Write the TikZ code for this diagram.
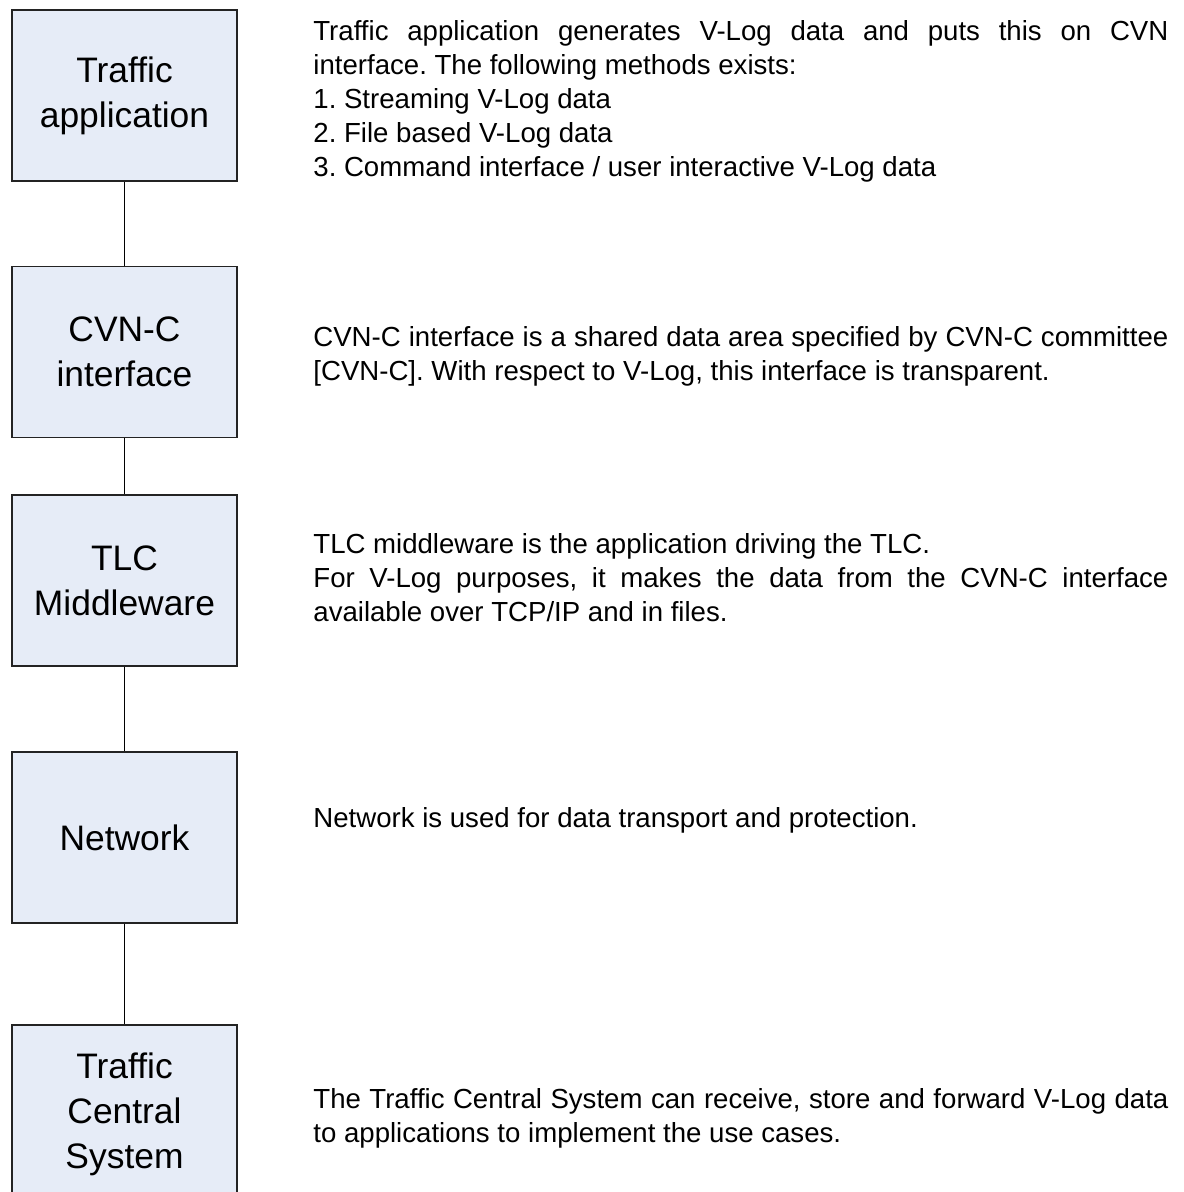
\documentclass[tikz,border=0pt]{standalone}
\usepackage{fontspec}
\setmainfont{Liberation Sans}
\definecolor{azulCamada}{RGB}{230,236,247}
\definecolor{bordaEscura}{RGB}{35,35,35}
\usetikzlibrary{positioning}
\newcommand{\fontenota}{\fontsize{13.8}{17}\selectfont\fontdimen4\font=0pt\relax}
\tikzset{
  camada/.style={rectangle, draw=bordaEscura, line width=0.7pt, fill=azulCamada,
                 minimum width=112.5pt, minimum height=85.5pt, inner sep=0pt,
                 align=center, font=\fontsize{17.7}{22.5}\selectfont},
  nota/.style={anchor=west, text width=427.5pt, align=justify, inner sep=0pt,
               font=\fontenota,
               execute at begin node={\frenchspacing\hyphenpenalty=10000\relax
                                      \exhyphenpenalty=10000\relax}},
  ligacao/.style={line width=0.7pt, black},
}

\begin{document}
\begin{tikzpicture}[x=0.5pt, y=-0.5pt]
  \useasboundingbox (0,0) rectangle (1183,1192);
  \clip (0,0) rectangle (1183,1192);
  % camadas
  \node[camada] (app) at (124.5,95.5) {Traffic\\application};
  \node[camada] (cvn) at (124.5,352) {CVN-C\\interface};
  \node[camada] (tlc) at (124.5,580.5) {TLC\\Middleware};
  \node[camada] (net) at (124.5,837.5) {Network};
  \node[camada, minimum height=89pt] (tcs) at (124.5,1114) {Traffic\\Central\\System};
  \draw[ligacao] (app) -- (cvn);
  \draw[ligacao] (cvn) -- (tlc);
  \draw[ligacao] (tlc) -- (net);
  \draw[ligacao] (net) -- (tcs);
  % descricoes
  \node[nota] (dapp) at (313,101) {Traffic application generates V-Log data and puts this on CVN
        interface. The following methods exists:\\
        1. Streaming V-Log data\\
        2. File based V-Log data\\
        3. Command interface / user interactive V-Log data};
  \node[nota] (dcvn) at (313,356) {CVN-C interface is a shared data area specified by CVN-C committee
        [CVN-C]. With respect to V-Log, this interface is transparent.};
  \node[nota] (dtlc) at (313,578) {TLC middleware is the application driving the TLC.\\
        For V-Log purposes, it makes the data from the CVN-C interface
        available over TCP/IP and in files.};
  \node[nota] (dnet) at (313,820) {Network is used for data transport and protection.};
  \node[nota] (dtcs) at (313,1118) {The Traffic Central System can receive, store and forward V-Log data
        to applications to implement the use cases.};
\end{tikzpicture}
\end{document}
